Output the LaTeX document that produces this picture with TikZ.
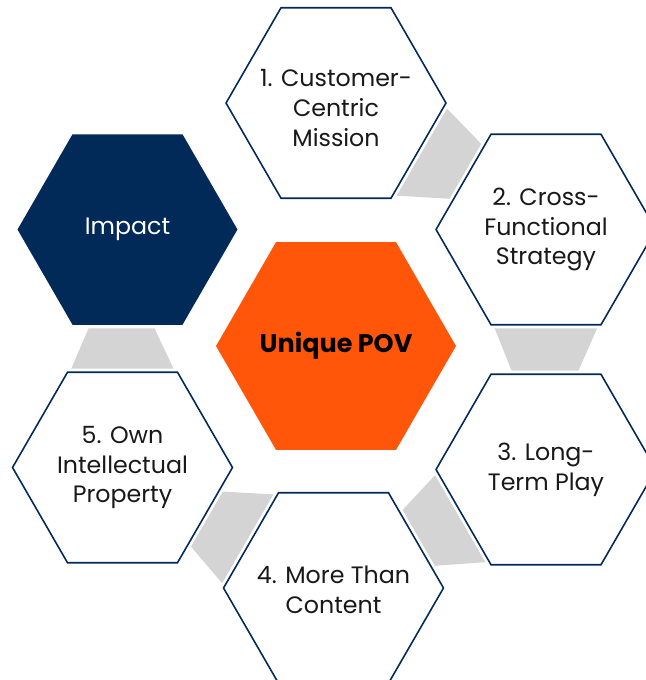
\documentclass[tikz,border=0pt]{standalone}
\usepackage{fontspec}
\setmainfont{Poppins}
\usetikzlibrary{shapes.geometric,calc,backgrounds}
\definecolor{povnavy}{RGB}{1,42,88}
\definecolor{povorange}{RGB}{255,86,10}
\definecolor{povgray}{RGB}{212,212,212}
\definecolor{povtext}{RGB}{25,25,25}
\tikzset{
	hexbox/.style={regular polygon,regular polygon sides=6,minimum size=4.4cm,inner sep=0pt,outer sep=0pt,fill=white,draw=povnavy,line width=0.9pt,preaction={draw=white,line width=4pt}},
	hextext/.style={align=center,inner sep=0pt,font=\fontsize{13.5}{17}\selectfont,text=povtext},
	link/.style={fill=povgray}
}
\begin{document}
\begin{tikzpicture}[x=0.02cm,y=-0.02cm]
	\useasboundingbox (0,0) rectangle (646,680);
	\node[hexbox,minimum size=4.8cm,fill=povorange,draw=none,label={[hextext,font=\fontsize{14.5}{17}\selectfont\bfseries,text=black]center:Unique POV}] (pov) at (336,346) {};
	\node[hexbox,fill=povnavy,draw=none,label={[hextext,text=white]center:Impact}] (impact) at (127.5,229.5) {};
	\node[hexbox,label={[hextext,yshift=-3pt]center:1. Customer-\\Centric\\Mission}] (s1) at (336,103) {};
	\node[hexbox,label={[hextext]center:2. Cross-\\Functional\\Strategy}] (s2) at (546,229.5) {};
	\node[hexbox,label={[hextext]center:3. Long-\\Term Play}] (s3) at (546,469.5) {};
	\node[hexbox,label={[hextext,yshift=-1pt]center:4. More Than\\Content}] (s4) at (333.5,588) {};
	\node[hexbox,label={[hextext]center:5. Own\\Intellectual\\Property}] (s5) at (122.5,467.5) {};
	\begin{scope}[on background layer]
		\fill[link] ($(s1.300)!0.03!(s1.0)$) -- ($(s1.0)!0.03!(s1.300)$) -- ($(s2.120)!0.13!(s2.180)$) -- ($(s2.120)!0.68!(s2.180)$) -- cycle;
		\fill[link] ($(s2.240)!0.02!(s2.300)$) -- ($(s2.300)!0.02!(s2.240)$) -- ($(s3.60)!0.22!(s3.120)$) -- ($(s3.120)!0.2!(s3.60)$) -- cycle;
		\fill[link] ($(s3.180)!0.03!(s3.240)$) -- ($(s3.240)!0.03!(s3.180)$) -- ($(s4.60)!0.77!(s4.0)$) -- ($(s4.60)!0.21!(s4.0)$) -- cycle;
		\fill[link] ($(s4.120)!0.02!(s4.180)$) -- ($(s4.180)!0.02!(s4.120)$) -- ($(s5.0)!0.8!(s5.300)$) -- ($(s5.0)!0.25!(s5.300)$) -- cycle;
		\fill[link] ($(s5.60)!0.02!(s5.120)$) -- ($(s5.120)!0.02!(s5.60)$) -- ($(impact.240)!0.16!(impact.300)$) -- ($(impact.240)!0.73!(impact.300)$) -- cycle;
	\end{scope}
\end{tikzpicture}
\end{document}
